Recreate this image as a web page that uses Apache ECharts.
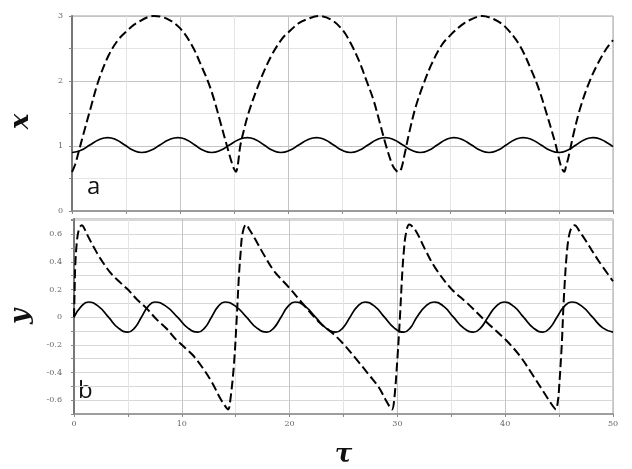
<!DOCTYPE html>
<html><head><meta charset="utf-8">
<script src="https://cdn.jsdelivr.net/npm/echarts@6/dist/echarts.min.js"></script>
<style>html,body{margin:0;padding:0;background:#fff}#c{width:632px;height:469px}</style>
</head><body><div id="c"></div>
<script>
// tick labels
const tauTickLabels = [0, 10, 20, 30, 40, 50];
const xTickLabels = [0, 1, 2, 3];
const yTickLabels = [-0.6, -0.4, -0.2, 0, 0.2, 0.4, 0.6];

// panel a: x(tau) — solid curve
const xSolid = [[0,0.90],[0.83,0.934],[1.65,1.015],[2.48,1.096],[3.3,1.13],[4.09,1.096],[4.88,1.015],[5.66,0.934],[6.45,0.90],[7.29,0.934],[8.13,1.015],[8.96,1.096],[9.8,1.13],[10.58,1.096],[11.35,1.015],[12.13,0.934],[12.9,0.90],[13.73,0.934],[14.55,1.015],[15.38,1.096],[16.2,1.13],[16.98,1.096],[17.75,1.015],[18.53,0.934],[19.3,0.90],[20.13,0.934],[20.95,1.015],[21.78,1.096],[22.6,1.13],[23.39,1.096],[24.18,1.015],[24.96,0.934],[25.75,0.90],[26.55,0.934],[27.35,1.015],[28.15,1.096],[28.95,1.13],[29.76,1.096],[30.58,1.015],[31.39,0.934],[32.2,0.90],[32.98,0.934],[33.75,1.015],[34.53,1.096],[35.3,1.13],[36.11,1.096],[36.93,1.015],[37.74,0.934],[38.55,0.90],[39.34,0.934],[40.13,1.015],[40.91,1.096],[41.7,1.13],[42.53,1.096],[43.35,1.015],[44.18,0.934],[45.0,0.90],[45.79,0.934],[46.58,1.015],[47.36,1.096],[48.15,1.13],[48.95,1.097],[49.5,1.045],[50,0.99]];

// panel a: x(tau) — dashed curve
const xDashed = [[0,0.6],[0.3,0.72],[0.6,0.9],[1.0,1.15],[1.7,1.57],[2.5,2.03],[3.4,2.4],[4.25,2.63],[5.0,2.76],[6.05,2.9],[7.55,3.0],[8.75,2.96],[10,2.81],[11.14,2.53],[12.04,2.2],[12.6,1.98],[13.14,1.71],[13.74,1.35],[14.34,0.99],[14.79,0.73],[15.0,0.64],[15.15,0.605],[15.3,0.68],[15.54,0.99],[15.85,1.22],[16.3,1.5],[17.05,1.86],[17.8,2.17],[18.56,2.43],[19.46,2.66],[20.0,2.75],[20.96,2.89],[21.87,2.96],[22.77,3.0],[23.98,2.94],[25.03,2.78],[25.76,2.58],[26.5,2.32],[27.25,1.99],[27.86,1.71],[28.46,1.35],[29.05,0.99],[29.66,0.69],[30.0,0.615],[30.2,0.6],[30.45,0.66],[30.7,0.84],[31.16,1.2],[31.76,1.6],[32.5,1.96],[33.26,2.27],[34.16,2.55],[35,2.71],[36.26,2.89],[37.47,2.99],[37.9,3.0],[39.0,2.95],[40,2.84],[41.37,2.55],[42.57,2.12],[43.2,1.85],[43.77,1.55],[44.67,1.04],[45.12,0.73],[45.35,0.63],[45.5,0.605],[45.65,0.68],[45.9,0.84],[46.4,1.22],[47.0,1.6],[47.8,1.98],[48.6,2.27],[49.4,2.5],[50,2.63]];

// panel b: y(tau) — solid curve
const ySolid = [[0,0],[0.67,0.078],[1.33,0.11],[2.27,0.078],[3.2,0],[4.1,-0.077],[5.0,-0.108],[5.63,-0.077],[6.25,0],[6.88,0.078],[7.5,0.11],[8.55,0.078],[9.6,0],[10.55,-0.077],[11.5,-0.108],[12.13,-0.077],[12.75,0],[13.38,0.078],[14.0,0.11],[15.0,0.078],[16.0,0],[16.95,-0.077],[17.9,-0.108],[18.55,-0.077],[19.2,0],[19.85,0.078],[20.5,0.11],[21.45,0.078],[22.4,0],[23.35,-0.077],[24.3,-0.108],[24.95,-0.077],[25.6,0],[26.3,0.078],[27.0,0.11],[27.9,0.078],[28.8,0],[29.7,-0.077],[30.6,-0.108],[31.2,-0.077],[31.8,0],[32.6,0.078],[33.4,0.11],[34.3,0.078],[35.2,0],[36.13,-0.077],[37.05,-0.108],[37.73,-0.077],[38.4,0],[39.15,0.078],[39.9,0.11],[40.8,0.078],[41.7,0],[42.6,-0.077],[43.5,-0.108],[44.15,-0.077],[44.8,0],[45.48,0.078],[46.15,0.11],[47.13,0.078],[48.1,0],[49.05,-0.077],[50,-0.108]];

// panel b: y(tau) — dashed curve
const yDashed = [[0,0],[0.06,0.2],[0.12,0.38],[0.3,0.57],[0.5,0.645],[0.73,0.665],[1.0,0.635],[1.27,0.59],[1.88,0.50],[2.48,0.42],[3.39,0.32],[4.3,0.25],[5.0,0.20],[5.82,0.13],[6.73,0.064],[7.64,-0.014],[8.55,-0.08],[9.45,-0.16],[10.0,-0.20],[10.97,-0.27],[11.88,-0.36],[12.79,-0.47],[13.55,-0.585],[14.0,-0.64],[14.3,-0.667],[14.5,-0.6],[14.84,-0.34],[15.1,0.0],[15.3,0.3],[15.45,0.46],[15.62,0.6],[15.96,0.67],[16.3,0.63],[16.8,0.565],[17.7,0.44],[18.6,0.33],[20.0,0.21],[21.3,0.09],[22.8,-0.04],[24.05,-0.12],[24.95,-0.19],[26.15,-0.30],[27.4,-0.42],[28.3,-0.51],[29.0,-0.61],[29.5,-0.667],[29.7,-0.6],[30.0,-0.3],[30.25,0.02],[30.45,0.32],[30.6,0.48],[30.78,0.6],[31.1,0.67],[31.66,0.63],[32.57,0.49],[33.48,0.36],[35.0,0.205],[36.5,0.10],[38.33,-0.04],[40.0,-0.16],[41.36,-0.28],[42.57,-0.42],[43.64,-0.55],[44.4,-0.64],[44.7,-0.667],[44.9,-0.6],[45.0,-0.51],[45.24,-0.21],[45.45,0.15],[45.76,0.50],[46.06,0.63],[46.45,0.665],[46.9,0.62],[47.42,0.56],[48.64,0.41],[50,0.26]];

const near = (arr, v) => arr.some(t => Math.abs(t - v) < 1e-6);
const tickFont = { fontFamily: 'DejaVu Serif', fontSize: 8, color: '#666' };
const gridMajor = '#c4c4c4', gridMinor = '#e4e4e4', axisCol = '#8a8a8a';
const nameFont = { fontFamily: 'DejaVu Serif', fontStyle: 'italic', fontWeight: 'bold', fontSize: 26, color: '#111' };

const chart = echarts.init(document.getElementById('c'), null, { renderer: 'canvas' });
chart.setOption({
  animation: false,
  backgroundColor: '#fff',
  grid: [
    { left: 61, right: 19, top: 16, height: 195, show: true, borderColor: '#a0a0a0', borderWidth: 1 },
    { left: 61, right: 19, top: 219, height: 199, show: true, borderColor: '#a0a0a0', borderWidth: 1 }
  ],
  xAxis: [
    { gridIndex: 0, type: 'value', min: 0, max: 50, interval: 5,
      axisLine: { show: true, onZero: false, lineStyle: { color: axisCol, width: 1.5 } },
      axisTick: { show: true, length: 3, lineStyle: { color: axisCol } },
      axisLabel: { show: false },
      splitLine: { show: true, lineStyle: { color: [gridMajor, gridMinor], width: 1 } } },
    { gridIndex: 1, type: 'value', min: 0, max: 50, interval: 5,
      name: 'τ', nameLocation: 'middle', nameGap: 28,
      nameTextStyle: nameFont,
      axisLine: { show: true, onZero: false, lineStyle: { color: axisCol, width: 1.5 } },
      axisTick: { show: true, length: 3, lineStyle: { color: axisCol } },
      axisLabel: Object.assign({ margin: 6, formatter: v => near(tauTickLabels, v) ? String(v) : '' }, tickFont),
      splitLine: { show: true, lineStyle: { color: [gridMajor, gridMinor], width: 1 } } }
  ],
  yAxis: [
    { gridIndex: 0, type: 'value', min: 0, max: 3, interval: 0.5,
      name: 'x', nameLocation: 'middle', nameGap: 38, nameRotate: 90,
      nameTextStyle: Object.assign({ padding: [0, 16, 0, 0] }, nameFont),
      axisLine: { show: true, lineStyle: { color: '#777', width: 2 } },
      axisTick: { show: true, length: 3, lineStyle: { color: axisCol } },
      axisLabel: Object.assign({ margin: 9, formatter: v => near(xTickLabels, v) ? String(v) : '' }, tickFont),
      splitLine: { show: true, lineStyle: { color: [gridMajor, gridMinor], width: 1 } } },
    { gridIndex: 1, type: 'value', min: -0.7, max: 0.71, interval: 0.1,
      name: 'y', nameLocation: 'middle', nameGap: 40, nameRotate: 90,
      nameTextStyle: nameFont,
      axisLine: { show: true, lineStyle: { color: '#777', width: 2 } },
      axisTick: { show: true, length: 3, lineStyle: { color: axisCol } },
      axisLabel: Object.assign({ margin: 12, formatter: v => near(yTickLabels, v) ? String(Math.round(v * 10) / 10) : '' }, tickFont),
      splitLine: { show: true, lineStyle: { color: '#d8d8d8', width: 1 } } }
  ],
  series: [
    { type: 'line', xAxisIndex: 0, yAxisIndex: 0, data: xSolid, smooth: 0.5, showSymbol: false,
      lineStyle: { color: '#000', width: 1.7, type: 'solid' } },
    { type: 'line', xAxisIndex: 0, yAxisIndex: 0, data: xDashed, smooth: 0.35, showSymbol: false,
      lineStyle: { color: '#000', width: 2, type: [9, 4] } },
    { type: 'line', xAxisIndex: 1, yAxisIndex: 1, data: ySolid, smooth: 0.5, showSymbol: false,
      lineStyle: { color: '#000', width: 1.7, type: 'solid' } },
    { type: 'line', xAxisIndex: 1, yAxisIndex: 1, data: yDashed, smooth: 0.35, showSymbol: false,
      lineStyle: { color: '#000', width: 2, type: [9, 4] } }
  ],
  graphic: [
    { type: 'text', left: 87, top: 175, style: { text: 'a', font: '24px "Open Sans", sans-serif', fill: '#111' } },
    { type: 'text', left: 78, top: 379, style: { text: 'b', font: '24px "Open Sans", sans-serif', fill: '#111' } }
  ]
});
</script></body></html>
